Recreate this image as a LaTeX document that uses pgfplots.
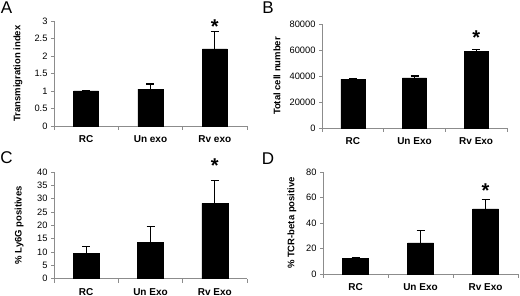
\documentclass[border=0pt]{standalone}
\usepackage{pgfplots}
\pgfplotsset{compat=1.18}
\usepackage{fontspec}
\setmainfont{Liberation Sans}
\definecolor{axgray}{RGB}{140,140,140}
\pgfplotsset{
  panel/.style={
    scale only axis,
    ybar,
    xmin=-0.5, xmax=2.5,
    ymin=0,
    axis x line*=bottom,
    axis y line*=left,
    axis line style={-, draw=axgray, line width=0.8pt},
    tick align=outside,
    xtick={0,1,2},
    minor xtick={-0.5,0.5,1.5,2.5},
    major x tick style={draw=none},
    minor x tick style={draw=axgray, line width=0.8pt},
    y tick style={draw=axgray, line width=0.8pt},
    minor tick length=4pt,
    major tick length=3pt,
    xticklabel style={font=\fontsize{10}{11}\selectfont\bfseries, yshift=-3pt},
    yticklabel style={font=\fontsize{9.3}{10}\selectfont},
    /pgf/number format/assume math mode=true,
    /pgf/number format/1000 sep={},
    scaled y ticks=false,
    every axis y label/.style={at={(axis description cs:0,0.5)}, rotate=90, anchor=center, font=\fontsize{9.5}{10}\selectfont\bfseries},
    clip=false,
  },
  barstyle/.style={fill=black, draw=black,
    error bars/.cd, y dir=plus, y explicit,
    error bar style={black, line width=1.1pt},
    error mark options={rotate=90, mark size=4pt, line width=1.1pt, black}},
}
\begin{document}
\begin{tikzpicture}
\path[use as bounding box] (0pt,0pt) rectangle (520pt,296pt);
% A
\begin{axis}[panel, at={(54pt,170pt)}, anchor=south west, width=193pt, height=105pt,
  ymax=3, ytick={0,0.5,1,1.5,2,2.5,3},
  yticklabels={0,0.5,1,1.5,2,2.5,3},
  xticklabels={RC,Un exo,Rv exo},
  ylabel={Transmigration index},
  ylabel style={at={(axis description cs:-0.187,0.5)}},
  bar width=25pt]
\addplot[barstyle] coordinates {(0,1) +- (0,0) (1,1.05) +- (0,0.15) (2,2.2) +- (0,0.5)};
\node[font=\fontsize{20}{20}\selectfont\bfseries] at (axis cs:2,2.85) {*};
\end{axis}
% B
\begin{axis}[panel, at={(322pt,168pt)}, anchor=south west, width=185pt, height=104pt,
  ymax=80000, ytick={0,20000,40000,60000,80000},
  xticklabels={RC,Un Exo,Rv Exo},
  ylabel={Total cell number},
  ylabel style={at={(axis description cs:-0.243,0.5)}},
  bar width=24pt]
\addplot[barstyle] coordinates {(0,37500) +- (0,400) (1,38500) +- (0,1500) (2,59000) +- (0,1600)};
\node[font=\fontsize{20}{20}\selectfont\bfseries] at (axis cs:2,69500) {*};
\end{axis}
% C
\begin{axis}[panel, at={(54pt,17.3pt)}, anchor=south west, width=193pt, height=106.7pt,
  ymax=40, ytick={0,5,10,15,20,25,30,35,40},
  xticklabels={RC,Un Exo,Rv Exo},
  ylabel={\% Ly6G positives},
  ylabel style={at={(axis description cs:-0.181,0.5)}},
  bar width=26pt]
\addplot[barstyle] coordinates {(0,9.5) +- (0,2.6) (1,13.7) +- (0,5.8) (2,28.2) +- (0,8.5)};
\node[font=\fontsize{20}{20}\selectfont\bfseries] at (axis cs:2,42.3) {*};
\end{axis}
% D
\begin{axis}[panel, at={(323pt,22pt)}, anchor=south west, width=195pt, height=102pt,
  ymax=80, ytick={0,20,40,60,80},
  xticklabels={RC,Un Exo,Rv Exo},
  ylabel={\% TCR-beta positive},
  ylabel style={at={(axis description cs:-0.159,0.5)}},
  bar width=26pt]
\addplot[barstyle] coordinates {(0,12) +- (0,1) (1,24.5) +- (0,9.5) (2,51) +- (0,7.5)};
\node[font=\fontsize{20}{20}\selectfont\bfseries] at (axis cs:2,65.5) {*};
\end{axis}
% panel letters
\node[font=\fontsize{17}{18}\selectfont] at (6.5pt,288pt) {A};
\node[font=\fontsize{17}{18}\selectfont] at (268pt,288pt) {B};
\node[font=\fontsize{17}{18}\selectfont] at (6.5pt,138.5pt) {C};
\node[font=\fontsize{17}{18}\selectfont] at (268pt,137pt) {D};
\end{tikzpicture}
\end{document}
